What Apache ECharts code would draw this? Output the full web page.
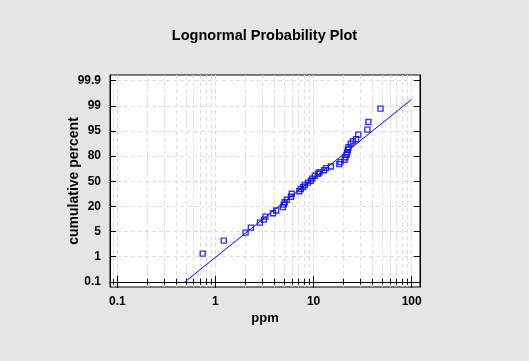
<!DOCTYPE html>
<html><head><meta charset="utf-8">
<script src="https://cdn.jsdelivr.net/npm/echarts@6/dist/echarts.min.js"></script>
<style>html,body{margin:0;padding:0;background:#e5e5e5}#c{width:529px;height:361px}</style>
</head><body><div id="c"></div>
<script>
// Observed data (ppm) and position on the probability axis (0 = 0.1%, 8 = 99.9%)
const ppm = [0.741, 1.216, 2.028, 2.297, 2.84, 3.12, 3.23, 3.86, 4.16, 4.87, 4.97, 5.08, 5.33, 5.89, 6.00,
  7.16, 7.41, 7.83, 8.15, 8.79, 9.38, 9.72, 10.3, 11.1, 11.5, 12.8, 13.4, 15.0, 18.3, 18.8, 20.7, 21.2,
  21.7, 22.0, 22.4, 22.7, 23.9, 25.2, 27.1, 28.6, 35.4, 36.2, 48.1];
const probPos = [1.121, 1.638, 1.956, 2.155, 2.354, 2.473, 2.592, 2.724, 2.835, 2.970, 3.070, 3.161, 3.260, 3.380, 3.499,
  3.598, 3.690, 3.769, 3.849, 3.944, 4.016, 4.103, 4.215, 4.294, 4.354, 4.433, 4.521, 4.584, 4.680, 4.759, 4.851, 4.950,
  5.050, 5.149, 5.249, 5.348, 5.487, 5.586, 5.666, 5.853, 6.052, 6.354, 6.887];
// Fitted lognormal line end points
const fitPpm = [0.49, 99];
const fitPos = [0, 7.24];
// Tick labels
const yTickLabels = ['0.1', '1', '5', '20', '50', '80', '95', '99', '99.9'];
const xTickValues = [0.1, 1, 10, 100];
const xTickLabels = ['0.1', '1', '10', '100'];

const FONT = '"Liberation Sans", Arial, sans-serif';
const yIdx = yTickLabels.map((_, i) => i);
const grid = { show: true, lineStyle: { color: '#dcdcdc', type: [4, 3], width: 1 } };
const black = { color: '#000', width: 1 };
const lblStyle = { fontFamily: FONT, fontSize: 12, fontWeight: 'bold', color: '#000' };

function xAxis(pos) {
  const main = pos === 'bottom';
  return {
    type: 'log', logBase: 10, min: 0.0842, max: 121.6, position: pos,
    name: main ? 'ppm' : '', nameLocation: 'middle', nameGap: 25, nameMoveOverlap: false,
    nameTextStyle: { fontFamily: FONT, fontSize: 13, fontWeight: 'bold', color: '#000' },
    axisLine: { show: true, lineStyle: black },
    axisTick: { show: true, inside: true, length: 6, customValues: xTickValues, lineStyle: black },
    minorTick: { show: true, splitNumber: 9, length: 3, lineStyle: black },
    axisLabel: Object.assign({ show: main, customValues: xTickValues, margin: 9,
      formatter: v => { const i = xTickValues.findIndex(t => Math.abs(t - v) / t < 1e-6); return i >= 0 ? xTickLabels[i] : ''; } }, lblStyle),
    splitLine: main ? grid : { show: false },
    minorSplitLine: main ? grid : { show: false }
  };
}
function yAxis(pos) {
  const main = pos === 'left';
  return {
    type: 'value', min: -0.207, max: 8.223, position: pos,
    name: main ? 'cumulative percent' : '', nameLocation: 'middle', nameGap: 29, nameMoveOverlap: false,
    nameTextStyle: { fontFamily: FONT, fontSize: 14, fontWeight: 'bold', color: '#000' },
    axisLine: { show: true, lineStyle: black },
    axisTick: { show: true, inside: true, length: 6, customValues: yIdx, lineStyle: black },
    axisLabel: Object.assign({ show: main, customValues: yIdx, margin: 9,
      formatter: v => { const i = Math.round(v); return Math.abs(v - i) < 1e-6 && yTickLabels[i] !== undefined ? yTickLabels[i] : ''; } }, lblStyle),
    splitLine: main ? grid : { show: false }
  };
}

const chart = echarts.init(document.getElementById('c'), null, { renderer: 'canvas' });
chart.setOption({
  backgroundColor: '#e5e5e5',
  animation: false,
  title: { text: 'Lognormal Probability Plot', left: 'center', top: 23,
    textStyle: { fontFamily: FONT, fontSize: 14.5, fontWeight: 'bold', color: '#000' } },
  grid: { left: 110, right: 109, top: 75, bottom: 74, show: true, backgroundColor: '#fff', borderColor: '#000', borderWidth: 1 },
  xAxis: [xAxis('bottom'), xAxis('top')],
  yAxis: [yAxis('left'), yAxis('right')],
  series: [
    { type: 'line', xAxisIndex: 0, yAxisIndex: 0, data: fitPpm.map((x, i) => [x, fitPos[i]]),
      showSymbol: false, lineStyle: { color: '#0000ff', width: 1 }, silent: true },
    { type: 'scatter', xAxisIndex: 0, yAxisIndex: 0, data: ppm.map((x, i) => [x, probPos[i]]),
      symbol: 'rect', symbolSize: 5,
      itemStyle: { color: 'rgba(0,0,0,0)', borderColor: '#0000ff', borderWidth: 1.4 } }
  ]
});
</script>
</body></html>
